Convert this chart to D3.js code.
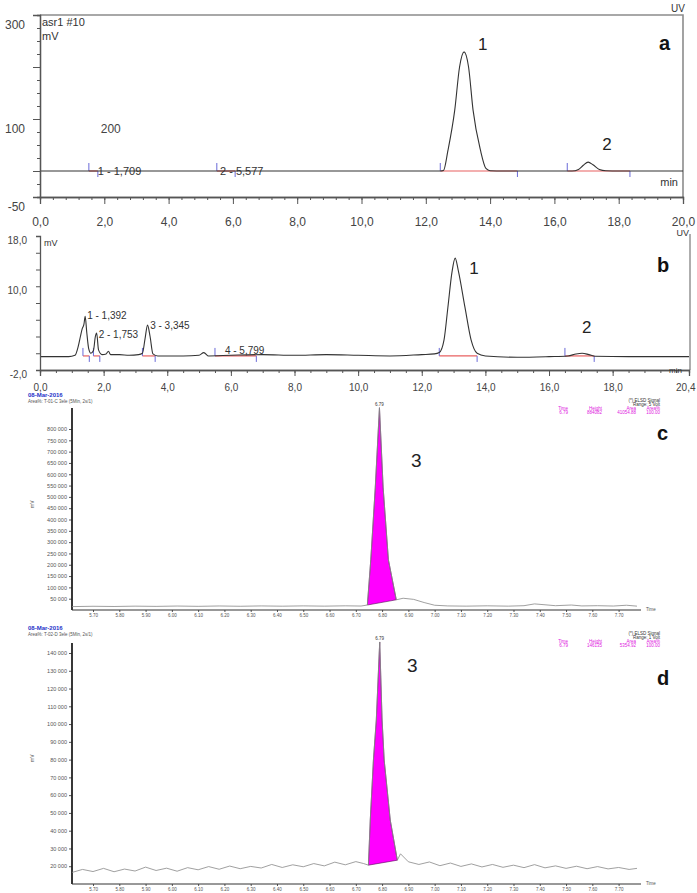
<!DOCTYPE html>
<html lang="en">
<head>
<meta charset="UTF-8">
<title>Chromatograms a-d</title>
<script src="https://d3js.org/d3.v7.min.js"></script>
<style>
  body { margin: 0; background: #fff; }
  text { font-family: Arial, "Liberation Sans", sans-serif; }
</style>
</head>
<body>
<script>
// ---------- data ----------
// panel a: UV trace, [min, mV]
const traceA = [[0,0],[12.45,0],[12.55,1],[12.69,40],[12.9,117],[13.05,200],[13.19,229],[13.33,200],[13.47,117],[13.7,40],[13.87,5],[14.0,0.5],[14.4,0],
  [16.55,0],[16.75,3],[16.9,11],[17.05,17],[17.2,12],[17.4,3],[17.6,0.5],[18,0],[20,0]];
const integA = [[1.52,1.80],[5.50,6.07],[12.45,14.85],[16.4,18.35]];
const peakLabelsA = [{t:1.8, text:"1 - 1,709"},{t:5.6, text:"2 - 5,577"}];
const peakNamesA = [{t:13.19, v:229, name:"1"},{t:17.05, v:17, name:"2"}];
const xTicksA = [0,2,4,6,8,10,12,14,16,18,20];
const xLabelsA = ["0,0","2,0","4,0","6,0","8,0","10,0","12,0","14,0","16,0","18,0","20,0"];
const yTicksA = [300,200,100,0,-50];
const yLabelsA = [{v:300, text:"300"},{v:100, text:"100"},{v:-50, text:"-50"}];

// panel b: UV trace, [min, mV]
const traceB = [[0,0],[0.9,0],[1.1,0.2],[1.2,1.5],[1.27,3.0],[1.33,4.2],[1.38,4.8],[1.42,6.0],[1.47,3.6],[1.53,1.2],[1.6,0.5],[1.68,0.9],[1.74,3.0],[1.78,3.5],[1.84,1.0],[1.95,0.3],
  [2.08,0.4],[2.15,0.8],[2.22,0.3],[2.5,0.3],[2.8,0.2],[3.1,0.3],[3.22,0.5],[3.3,2.6],[3.38,4.7],[3.46,3.0],[3.55,0.4],[3.7,0.1],[4.5,0.1],
  [5.0,0.2],[5.15,0.6],[5.3,0.1],[6.0,0.2],[7.0,0.3],[8.0,0.2],[9.0,0.3],[10.0,0.2],[11.0,0.1],[12.0,0.3],[12.4,0.4],
  [12.55,0.6],[12.7,2.5],[12.82,7.3],[12.95,12.6],[13.05,14.7],[13.15,12.8],[13.36,7.3],[13.55,2.5],[13.74,0.5],[14.0,0.1],[15.0,-0.1],[16.0,0],
  [16.6,0.1],[16.85,0.4],[17.04,0.5],[17.25,0.3],[17.45,0.05],[18.5,0],[20.4,0]];
const integB = [[1.35,1.55],[1.68,1.88],[3.22,3.62],[5.5,6.8],[12.55,13.74],[16.5,17.42]];
const peakLabelsB = [{t:1.42, v:6.0, text:"1 - 1,392"},{t:1.78, v:3.2, text:"2 - 1,753"},{t:3.4, v:4.6, text:"3 - 3,345"},{t:5.75, v:0.8, text:"4 - 5,799"}];
const peakNamesB = [{t:13.05, v:14.7, name:"1"},{t:17.04, v:0.5, name:"2"}];
const xTicksB = [0,2,4,6,8,10,12,14,16,18,20.4];
const xLabelsB = ["0,0","2,0","4,0","6,0","8,0","10,0","12,0","14,0","16,0","18,0","20,4"];
const yLabelsB = [{v:18, text:"18,0"},{v:10, text:"10,0"},{v:-2, text:"-2,0"}];

// panel c: ELSD trace, [min, counts]
const traceC = [[5.62,15000],[5.7,16500],[5.78,15500],[5.86,17000],[5.94,16000],[6.02,17500],[6.1,16200],[6.18,17800],[6.26,16500],[6.34,18000],
  [6.42,16800],[6.5,18200],[6.58,17000],[6.66,18500],[6.72,17500],
  [6.744,22000],[6.757,222000],[6.774,540000],[6.79,894000],[6.804,540000],[6.824,222000],[6.854,45000],
  [6.88,52000],[6.92,47000],[6.96,33000],[7.0,21000],[7.05,18000],[7.12,17000],[7.2,18500],[7.28,17000],[7.34,19000],[7.38,27000],[7.42,23000],
  [7.46,19000],[7.52,22000],[7.56,18000],[7.62,19000],[7.68,17500],[7.73,21000],[7.77,17000]];
const fillC = [6.744, 6.854];
const yTicksC = [50000,100000,150000,200000,250000,300000,350000,400000,450000,500000,550000,600000,650000,700000,750000,800000];
const yLabelsC = ["50 000","100 000","150 000","200 000","250 000","300 000","350 000","400 000","450 000","500 000","550 000","600 000","650 000","700 000","750 000","800 000"];
const reportC = ["6.79","884082","41054.88","100.00"];

// panel d: ELSD trace, [min, counts]
const traceD = [[5.62,16500],[5.66,18200],[5.70,17000],[5.74,18800],[5.78,16900],[5.82,18400],[5.86,17300],[5.90,19500],[5.94,17600],[5.98,18900],
  [6.02,17200],[6.06,19200],[6.10,18000],[6.14,19800],[6.18,18300],[6.22,20100],[6.26,18600],[6.30,19900],[6.34,19000],[6.38,21000],
  [6.42,19300],[6.46,20800],[6.50,19700],[6.54,21500],[6.58,20200],[6.62,22300],[6.66,20800],[6.70,22600],[6.73,21500],
  [6.748,20600],[6.755,46000],[6.767,79700],[6.778,102300],[6.791,146200],[6.80,102300],[6.808,79700],[6.831,46000],[6.858,23400],
  [6.87,27000],[6.9,22500],[6.94,21000],[6.98,22400],[7.02,20300],[7.06,21800],[7.10,19900],[7.14,21300],[7.18,19600],[7.22,21000],
  [7.26,19400],[7.30,20600],[7.34,19200],[7.38,20900],[7.42,19100],[7.46,20200],[7.50,18800],[7.54,20000],[7.58,18600],[7.62,19800],
  [7.66,18500],[7.70,19300],[7.74,18200],[7.77,18800]];
const fillD = [6.748, 6.858];
const yTicksD = [20000,30000,40000,50000,60000,70000,80000,90000,100000,110000,120000,130000,140000];
const yLabelsD = ["20 000","30 000","40 000","50 000","60 000","70 000","80 000","90 000","100 000","110 000","120 000","130 000","140 000"];
const reportD = ["6.79","146135","5354.92","100.00"];

const xTicksCD = [5.7,5.8,5.9,6.0,6.1,6.2,6.3,6.4,6.5,6.6,6.7,6.8,6.9,7.0,7.1,7.2,7.3,7.4,7.5,7.6,7.7];
const xLabelsCD = ["5.70","5.80","5.90","6.00","6.10","6.20","6.30","6.40","6.50","6.60","6.70","6.80","6.90","7.00","7.10","7.20","7.30","7.40","7.50","7.60","7.70"];

// ---------- drawing ----------
const W = 697, H = 893;
const svg = d3.select("body").append("svg").attr("width", W).attr("height", H);

function styleAxis(g, color, width) {
  g.select(".domain").attr("stroke", color).attr("stroke-width", width);
  g.selectAll(".tick line").attr("stroke", color);
}

function drawMarkers(g, x, y, integ, base) {
  integ.forEach(([t0, t1]) => {
    g.append("line").attr("x1", x(t0)).attr("x2", x(t1)).attr("y1", y(base)).attr("y2", y(base))
      .attr("stroke", "#e86060").attr("stroke-width", 1.2);
    g.append("line").attr("x1", x(t0)).attr("x2", x(t0)).attr("y1", y(base) - 8).attr("y2", y(base))
      .attr("stroke", "#6a6ad8").attr("stroke-width", 1);
    g.append("line").attr("x1", x(t1)).attr("x2", x(t1)).attr("y1", y(base)).attr("y2", y(base) + 6)
      .attr("stroke", "#6a6ad8").attr("stroke-width", 1);
  });
}

// ===== panel a =====
{
  const x = d3.scaleLinear([0, 20], [40, 683]);
  const y = d3.scaleLinear([-50, 300], [197, 15]);
  const g = svg.append("g");

  g.append("path").attr("d", `M${x(0)},${y(300)}H${x(20)}V${y(-50)}`)
    .attr("fill", "none").attr("stroke", "#8c8c8c").attr("stroke-width", 1.6);

  drawMarkers(g, x, y, integA, 0);

  g.append("path").datum(traceA).attr("fill", "none").attr("stroke", "#333").attr("stroke-width", 1.1)
    .attr("d", d3.line().x(d => x(d[0])).y(d => y(d[1])).curve(d3.curveMonotoneX));

  const xa = g.append("g").attr("transform", `translate(0,${y(-50)})`)
    .call(d3.axisBottom(x).tickValues(d3.range(0, 20.01, 0.4)).tickSize(3).tickFormat(""));
  styleAxis(xa, "#555", 1.3);
  const xb = g.append("g").attr("transform", `translate(0,${y(-50)})`)
    .call(d3.axisBottom(x).tickValues(xTicksA).tickSize(7).tickPadding(13).tickFormat((d, i) => xLabelsA[i]));
  styleAxis(xb, "#555", 1.3);
  xb.selectAll("text").attr("font-size", 12).attr("fill", "#444");

  const ya = g.append("g").attr("transform", `translate(${x(0)},0)`)
    .call(d3.axisLeft(y).tickValues(d3.range(-50, 300.1, 25)).tickSize(3).tickFormat(""));
  styleAxis(ya, "#555", 1.3);
  const yb = g.append("g").attr("transform", `translate(${x(0)},0)`)
    .call(d3.axisLeft(y).tickValues(yTicksA).tickSize(7).tickFormat(""));
  styleAxis(yb, "#555", 1.3);

  g.selectAll(".ylab").data(yLabelsA).join("text")
    .attr("x", 25).attr("y", d => y(d.v) + 14).attr("text-anchor", "end")
    .attr("font-size", 12).attr("fill", "#444").text(d => d.text);
  // stray "200" label as printed in the original export
  g.append("text").attr("x", x(2.2)).attr("y", y(100) + 14).attr("text-anchor", "middle")
    .attr("font-size", 12).attr("fill", "#444").text("200");

  g.selectAll(".plab").data(peakLabelsA).join("text")
    .attr("x", d => x(d.t)).attr("y", y(0) + 4).attr("font-size", 11).attr("fill", "#333").text(d => d.text);

  g.selectAll(".pname").data(peakNamesA).join("text")
    .attr("x", d => x(d.t) + 14).attr("y", d => y(d.v) - 2).attr("font-size", 17).attr("fill", "#222").text(d => d.name)
    .attr("dy", (d, i) => i ? -10 : 0);

  g.append("text").attr("x", 42).attr("y", 26).attr("font-size", 11).attr("fill", "#333").text("asr1 #10");
  g.append("text").attr("x", 42).attr("y", 40).attr("font-size", 11).attr("fill", "#333").text("mV");
  g.append("text").attr("x", 685).attr("y", 12).attr("text-anchor", "end").attr("font-size", 10).attr("fill", "#333").text("UV");
  g.append("text").attr("x", 678).attr("y", 186).attr("text-anchor", "end").attr("font-size", 11).attr("fill", "#333").text("min");
  g.append("text").attr("x", 659).attr("y", 50).attr("font-family", "'Liberation Serif', 'Times New Roman', serif")
    .attr("font-weight", "bold").attr("font-size", 20).attr("fill", "#111").text("a");
}

// ===== panel b =====
{
  const x = d3.scaleLinear([0, 20.4], [40, 689]);
  const y = d3.scaleLinear([-2, 18], [370, 236]);
  const g = svg.append("g");

  g.append("line").attr("x1", 690).attr("x2", 690).attr("y1", 234).attr("y2", 370)
    .attr("stroke", "#8c8c8c").attr("stroke-width", 1.4);

  drawMarkers(g, x, y, integB, 0.1);

  g.append("path").datum(traceB).attr("fill", "none").attr("stroke", "#333").attr("stroke-width", 1.1)
    .attr("d", d3.line().x(d => x(d[0])).y(d => y(d[1])).curve(d3.curveMonotoneX));

  const xa = g.append("g").attr("transform", `translate(0,${y(-2)})`)
    .call(d3.axisBottom(x).tickValues(d3.range(0, 20.41, 0.5)).tickSize(3).tickFormat(""));
  styleAxis(xa, "#555", 1.3);
  const xb = g.append("g").attr("transform", `translate(0,${y(-2)})`)
    .call(d3.axisBottom(x).tickValues(xTicksB).tickSize(6).tickPadding(8).tickFormat((d, i) => xLabelsB[i]));
  styleAxis(xb, "#555", 1.3);
  xb.selectAll("text").attr("font-size", 10).attr("fill", "#444")
    .attr("text-anchor", (d, i) => i === xTicksB.length - 1 ? "end" : "middle")
    .attr("dx", (d, i) => i === xTicksB.length - 1 ? 6 : 0);

  const ya = g.append("g").attr("transform", `translate(${x(0)},0)`)
    .call(d3.axisLeft(y).tickValues(d3.range(-2, 18.1, 2.5)).tickSize(4).tickFormat(""));
  styleAxis(ya, "#555", 1.3);

  g.selectAll(".ylab").data(yLabelsB).join("text")
    .attr("x", 27).attr("y", d => y(d.v) + (d.v === 18 ? 8 : d.v === -2 ? 8 : 4)).attr("text-anchor", "end")
    .attr("font-size", 10).attr("fill", "#444").text(d => d.text);

  g.selectAll(".plab").data(peakLabelsB).join("text")
    .attr("x", d => x(d.t) + 2).attr("y", d => y(d.v) + 3).attr("font-size", 10).attr("fill", "#333").text(d => d.text);

  g.selectAll(".pname").data(peakNamesB).join("text")
    .attr("x", (d, i) => x(d.t) + (i ? 0 : 14)).attr("y", (d, i) => y(d.v) + (i ? -20 : 16))
    .attr("font-size", 17).attr("fill", "#222").text(d => d.name);

  g.append("text").attr("x", 44).attr("y", 246).attr("font-size", 9).attr("fill", "#333").text("mV");
  g.append("text").attr("x", 689).attr("y", 236).attr("text-anchor", "end").attr("font-size", 9).attr("fill", "#333").text("UV");
  g.append("text").attr("x", 682).attr("y", 373).attr("text-anchor", "end").attr("font-size", 8).attr("fill", "#333").text("min");
  g.append("text").attr("x", 657).attr("y", 272).attr("font-family", "'Liberation Serif', 'Times New Roman', serif")
    .attr("font-weight", "bold").attr("font-size", 20).attr("fill", "#111").text("b");
}

// ===== panels c, d =====
function elsdPanel(opt) {
  const x = d3.scaleLinear([5.62, 7.77], [72, 637]);
  const y = d3.scaleLinear(opt.yDomain, opt.yRange);
  const g = svg.append("g");
  const xMax = 641;
  const line = d3.line().x(d => x(d[0])).y(d => y(d[1]));

  // y axis
  const ya = g.append("g").attr("transform", `translate(72,0)`)
    .call(d3.axisLeft(y).tickValues(opt.yTicks).tickSize(3).tickPadding(2).tickFormat((d, i) => opt.yLabels[i]));
  ya.select(".domain").remove();
  ya.selectAll(".tick line").attr("stroke", "#555");
  ya.selectAll("text").attr("font-size", 5.5).attr("fill", "#555");
  g.append("line").attr("x1", 72).attr("x2", 72).attr("y1", opt.axisTop).attr("y2", opt.yRange[0])
    .attr("stroke", "#222").attr("stroke-width", 1.8);

  // x axis
  const xa = g.append("g").attr("transform", `translate(0,${opt.yRange[0]})`)
    .call(d3.axisBottom(x).tickValues(opt.xTicks).tickSize(2).tickPadding(2).tickFormat((d, i) => opt.xLabels[i]));
  xa.select(".domain").remove();
  xa.selectAll(".tick line").attr("stroke", "#555");
  xa.selectAll("text").attr("font-size", 4.5).attr("fill", "#555");
  g.append("line").attr("x1", 72).attr("x2", xMax).attr("y1", opt.yRange[0]).attr("y2", opt.yRange[0])
    .attr("stroke", "#333").attr("stroke-width", 1);
  g.append("text").attr("x", xMax + 5).attr("y", opt.yRange[0] + 1).attr("font-size", 4.5).attr("fill", "#555").text("Time");

  // filled peak
  const inPeak = opt.trace.filter(d => d[0] >= opt.fill[0] && d[0] <= opt.fill[1]);
  g.append("path").attr("fill", "#ff00ff").attr("stroke", "#551155").attr("stroke-width", 0.6)
    .attr("d", line(inPeak) + "Z");

  g.append("path").datum(opt.trace).attr("fill", "none").attr("stroke", "#888").attr("stroke-width", 0.8)
    .attr("d", line);

  const apex = opt.trace.reduce((a, b) => b[1] > a[1] ? b : a);
  g.append("text").attr("x", x(apex[0])).attr("y", y(apex[1]) - 2).attr("text-anchor", "middle")
    .attr("font-size", 4.5).attr("fill", "#333").text("6.79");

  g.append("text").attr("x", 28).attr("y", opt.head).attr("font-size", 6).attr("font-weight", "bold").attr("fill", "#2533c8").text("08-Mar-2016");
  g.append("text").attr("x", 28).attr("y", opt.head + 6).attr("font-size", 4.5).attr("fill", "#555").text(opt.sub);

  g.append("text").attr("x", 660).attr("y", opt.head + 5).attr("text-anchor", "end").attr("font-size", 4.5).attr("fill", "#333").text("(*) ELSD Signal");
  g.append("text").attr("x", 660).attr("y", opt.head + 9).attr("text-anchor", "end").attr("font-size", 4.5).attr("fill", "#333").text(opt.range);
  const cols = [568, 602, 636, 660];
  ["Time", "Height", "Area", "Area%"].forEach((t, i) =>
    g.append("text").attr("x", cols[i]).attr("y", opt.head + 13).attr("text-anchor", "end").attr("font-size", 4.5).attr("fill", "#e020e0").text(t));
  opt.report.forEach((t, i) =>
    g.append("text").attr("x", cols[i]).attr("y", opt.head + 17).attr("text-anchor", "end").attr("font-size", 4.5).attr("fill", "#e020e0").text(t));

  g.append("text").attr("x", 34).attr("y", opt.ylabY).attr("font-size", 5).attr("fill", "#555")
    .attr("transform", `rotate(-90,34,${opt.ylabY})`).text("mV");

  g.append("text").attr("x", opt.num[0]).attr("y", opt.num[1]).attr("font-size", 19).attr("fill", "#222").text("3");
  g.append("text").attr("x", 657).attr("y", opt.letterY).attr("font-family", "'Liberation Serif', 'Times New Roman', serif")
    .attr("font-weight", "bold").attr("font-size", 20).attr("fill", "#111").text(opt.letter);
}

elsdPanel({
  trace: traceC, fill: fillC, yDomain: [0, 800000], yRange: [610, 429], axisTop: 408,
  yTicks: yTicksC, yLabels: yLabelsC, xTicks: xTicksCD, xLabels: xLabelsCD, report: reportC,
  head: 397, sub: "Area%: T-01-C 3ele (5Min, 2s/1)", range: "Range: 5 Volt", ylabY: 508,
  num: [411, 467], letter: "c", letterY: 440
});
elsdPanel({
  trace: traceD, fill: fillD, yDomain: [10000, 140000], yRange: [884, 653], axisTop: 643,
  yTicks: yTicksD, yLabels: yLabelsD, xTicks: xTicksCD, xLabels: xLabelsCD, report: reportD,
  head: 630, sub: "Area%: T-02-D 3ele (5Min, 2s/1)", range: "Range: 1 Volt", ylabY: 762,
  num: [407, 672], letter: "d", letterY: 685
});
</script>
</body>
</html>
